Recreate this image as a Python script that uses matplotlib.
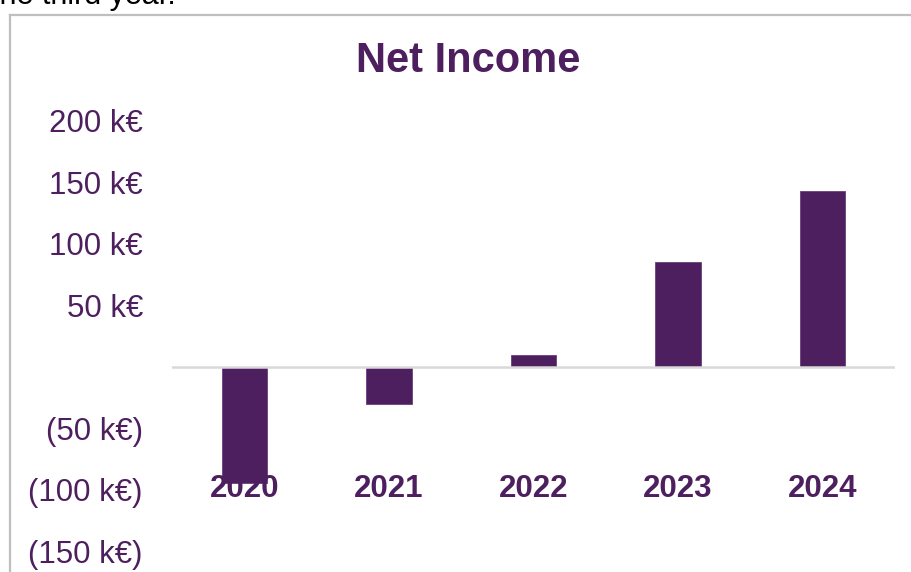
import matplotlib.pyplot as plt
from matplotlib.lines import Line2D
from matplotlib.ticker import FuncFormatter, MultipleLocator

# Net income per year, in k€
years = ["2020", "2021", "2022", "2023", "2024"]
net_income = [-95, -30, 9.5, 85, 143]

purple = "#4E1F5F"

plt.rcParams["font.family"] = ["Liberation Sans", "DejaVu Sans"]

fig = plt.figure(figsize=(9.11, 5.72), dpi=100)
W, H = 911, 572

# plot area in pixel units, converted to figure fractions
left, right, top, bottom = 172, 895, 121, 551
ax = fig.add_axes([left / W, 1 - bottom / H, (right - left) / W, (bottom - top) / H])

x = range(len(years))
ax.bar(x, net_income, width=0.315, color=purple, edgecolor="#6A3F7A",
       linewidth=0.6, zorder=2)
ax.axhline(0, color="#D9D9D9", linewidth=1.8, zorder=3)

ax.set_xlim(-0.5, len(years) - 0.5)
ax.set_ylim(-150, 200)
ax.yaxis.set_major_locator(MultipleLocator(50))


def keur(v, pos):
    if abs(v) < 1e-9:
        return ""
    if v < 0:
        return "({:,.0f} k€)".format(-v)
    return "{:,.0f} k€".format(v)


ax.yaxis.set_major_formatter(FuncFormatter(keur))
ax.tick_params(axis="y", length=0, pad=21, labelsize=22.5, labelcolor=purple)
ax.set_xticks([])
for s in ax.spines.values():
    s.set_visible(False)

# year labels sit inside the plot, over the bars
for i, lab in enumerate(years):
    ax.text(i, 0.145, lab, transform=ax.get_xaxis_transform(), ha="center",
            va="center", fontsize=22.5, fontweight="bold", color=purple, zorder=4)

fig.text(468 / W, 1 - 61 / H, "Net Income", ha="center", va="center",
         fontsize=30, fontweight="bold", color=purple)

# chart frame and the end of the preceding sentence
fig.add_artist(Line2D([10 / W, 10 / W], [0, 1 - 15 / H], transform=fig.transFigure,
                      color="#BFBFBF", linewidth=1.6))
fig.add_artist(Line2D([10 / W, 1], [1 - 15 / H, 1 - 15 / H], transform=fig.transFigure,
                      color="#BFBFBF", linewidth=1.6))
fig.text(-9 / W, 1 - 4 / H, "the third year.", ha="left", va="baseline",
         fontsize=22, color="black")

fig.savefig("out.png", dpi=100, facecolor="white")
